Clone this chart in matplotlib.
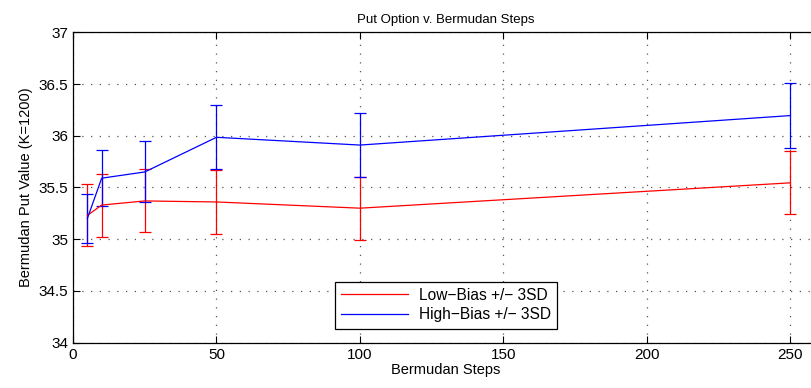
import matplotlib
matplotlib.use("Agg")
import matplotlib.pyplot as plt
import numpy as np

plt.rcParams['font.family'] = ['Liberation Sans', 'DejaVu Sans']

steps = [5, 10, 25, 50, 100, 250]
low_bias = [35.23, 35.33, 35.37, 35.36, 35.30, 35.545]
low_err = [0.30, 0.305, 0.305, 0.305, 0.305, 0.305]
high_bias = [35.20, 35.59, 35.65, 35.985, 35.91, 36.195]
high_err = [0.24, 0.27, 0.295, 0.31, 0.31, 0.315]

fig = plt.figure(figsize=(8.11, 3.88), dpi=100)
ax = fig.add_axes([0.090, 0.1168, 0.920, 0.800])

low = ax.errorbar(steps, low_bias, yerr=low_err, color='red', lw=0.9,
                  elinewidth=0.9, capsize=4.5, capthick=0.9)
high = ax.errorbar(steps, high_bias, yerr=high_err, color='blue', lw=0.9,
                   elinewidth=0.9, capsize=4.5, capthick=0.9)

ax.set_xlim(0, 260)
ax.set_ylim(34, 37)
ax.set_xticks(np.arange(0, 251, 50))
ax.set_yticks(np.arange(34, 37.01, 0.5))
ax.set_yticklabels(['34', '34.5', '35', '35.5', '36', '36.5', '37'])
ax.grid(True, linestyle=(0, (1, 6)), color='#555555', lw=0.9)
ax.tick_params(direction='in', top=True, right=True, labelsize=11, length=5)
for s in ax.spines.values():
    s.set_linewidth(0.9)

ax.set_title('Put Option v. Bermudan Steps', fontsize=9.5, pad=7)
ax.set_xlabel('Bermudan Steps', fontsize=10.5, labelpad=1)
ax.set_ylabel('Bermudan Put Value (K=1200)', fontsize=10.5, labelpad=4)

# legend shows plain lines only, no error bar glyphs
leg = ax.legend([low[0], high[0]],
                ['Low\u2212Bias +/\u2212 3SD', 'High\u2212Bias +/\u2212 3SD'],
                loc='lower center', fontsize=11.2, fancybox=False,
                edgecolor='black', framealpha=1, handlelength=4.3,
                borderpad=0.4, labelspacing=0.3, borderaxespad=0.9,
                handletextpad=0.7)
leg.get_frame().set_linewidth(0.9)

fig.savefig('out.png', dpi=100)
